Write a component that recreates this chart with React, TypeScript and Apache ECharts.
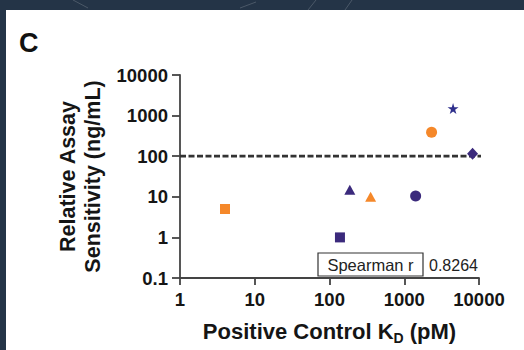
import React, { useEffect, useRef } from "react";
import * as echarts from "echarts";

const kdValues = [4, 138, 187, 355, 1420, 2320, 4500, 8200];
const sensitivityValues = [5, 1, 15, 10, 10.5, 390, 1500, 115];
const markerShapes = ["rect", "rect", "triangle", "triangle", "circle", "circle", "star", "diamond"];
const markerGroups = ["orange", "purple", "purple", "orange", "purple", "orange", "blue", "purple"];
const thresholdValue = 100;
const thresholdRange = [1, 15500];
const yTicks = [0.1, 1, 10, 100, 1000, 10000];
const xTicks = [1, 10, 100, 1000, 10000];
const spearmanLabel = "Spearman r";
const spearmanValue = "0.8264";

const COLORS: Record<string, string> = {
  orange: "#F5882A",
  purple: "#3B2A7C",
  blue: "#2E2F8C",
};
const STAR = "path://M50,0 L61,35 L98,35 L68,57 L79,91 L50,70 L21,91 L32,57 L2,35 L39,35 Z";
const FONT = "'Liberation Sans', Arial, Helvetica, sans-serif";

function fmt(v: number) {
  return String(Number(v.toPrecision(3)));
}

export default function App() {
  const ref = useRef<HTMLDivElement>(null);
  useEffect(() => {
    if (!ref.current) return;
    const chart = echarts.init(ref.current, null, { renderer: "svg" });
    const points = kdValues.map((x, i) => {
      const shape = markerShapes[i];
      const size =
        shape === "rect" ? 10 : shape === "triangle" ? [11, 10] : shape === "star" ? 11 : shape === "diamond" ? [11, 12] : 11;
      return {
        value: [x, sensitivityValues[i]],
        symbol: shape === "star" ? STAR : shape,
        symbolSize: size,
        itemStyle: { color: COLORS[markerGroups[i]], opacity: 1 },
      };
    });
    chart.setOption({
      animation: false,
      backgroundColor: "#243447",
      grid: { left: 180, right: 45, top: 75, bottom: 70 },
      xAxis: {
        type: "log",
        logBase: 10,
        min: xTicks[0],
        max: xTicks[xTicks.length - 1],
        name: "{a|Positive Control K}{s|D}{a| (pM)}",
        nameLocation: "middle",
        nameGap: 39,
        nameTextStyle: {
          rich: {
            a: { fontFamily: FONT, fontWeight: "bold", fontSize: 22, color: "#151515", lineHeight: 28 },
            s: { fontFamily: FONT, fontWeight: "bold", fontSize: 14, color: "#151515", lineHeight: 28, verticalAlign: "bottom" },
          },
        },
        axisLine: { lineStyle: { color: "#444444", width: 1.8 } },
        axisTick: { show: true, inside: false, length: 7, lineStyle: { color: "#444444", width: 1.8 } },
        axisLabel: { fontFamily: FONT, fontWeight: "bold", fontSize: 18.5, color: "#151515", margin: 12, formatter: fmt },
        splitLine: { show: false },
        minorTick: { show: false },
      },
      yAxis: {
        type: "log",
        logBase: 10,
        min: yTicks[0],
        max: yTicks[yTicks.length - 1],
        name: "Relative Assay\nSensitivity (ng/mL)",
        nameLocation: "middle",
        nameRotate: 90,
        nameGap: 73,
        nameTextStyle: { fontFamily: FONT, fontWeight: "bold", fontSize: 21.5, color: "#151515", lineHeight: 25 },
        axisLine: { show: true, lineStyle: { color: "#444444", width: 1.8 } },
        axisTick: { show: true, inside: false, length: 8, lineStyle: { color: "#444444", width: 1.8 } },
        axisLabel: { fontFamily: FONT, fontWeight: "bold", fontSize: 18.5, color: "#151515", margin: 12, formatter: fmt },
        splitLine: { show: false },
      },
      series: [
        {
          type: "line",
          data: [
            [thresholdRange[0], thresholdValue],
            [thresholdRange[1], thresholdValue],
          ],
          clip: false,
          showSymbol: false,
          symbol: "none",
          lineStyle: { color: "#333333", width: 2.8, type: [6, 2.5] },
          z: 3,
          silent: true,
        },
        {
          type: "scatter",
          data: points,
          z: 4,
          clip: false,
        },
      ],
      graphic: [
        { type: "rect", z: -100, shape: { x: 6, y: 10, width: 518, height: 340 }, style: { fill: "#ffffff" } },
        { type: "line", z: -100, shape: { x1: 73, y1: 0, x2: 88, y2: 8 }, style: { stroke: "rgba(255,255,255,0.18)", lineWidth: 1 } },
        { type: "line", z: -100, shape: { x1: 240, y1: 8, x2: 256, y2: 2 }, style: { stroke: "rgba(255,255,255,0.18)", lineWidth: 1 } },
        { type: "line", z: -100, shape: { x1: 308, y1: 10, x2: 316, y2: 0 }, style: { stroke: "rgba(255,255,255,0.18)", lineWidth: 1 } },
        { type: "line", z: -100, shape: { x1: 345, y1: 10, x2: 352, y2: 0 }, style: { stroke: "rgba(255,255,255,0.18)", lineWidth: 1 } },
        {
          type: "text",
          left: 19,
          top: 29,
          style: { text: "C", fontFamily: FONT, fontWeight: "bold", fontSize: 27, fill: "#111111" },
        },
        {
          type: "rect",
          shape: { x: 318, y: 253, width: 105, height: 23 },
          style: { fill: "#ffffff", stroke: "#333333", lineWidth: 1.2 },
          z: 5,
        },
        {
          type: "text",
          x: 370.5,
          y: 264.5,
          z: 6,
          style: { text: spearmanLabel, fontFamily: FONT, fontSize: 16.5, fill: "#222222", align: "center", verticalAlign: "middle" },
        },
        {
          type: "text",
          x: 429,
          y: 265,
          z: 6,
          style: { text: spearmanValue, fontFamily: FONT, fontSize: 16, fill: "#222222", align: "left", verticalAlign: "middle" },
        },
      ],
    });
    return () => chart.dispose();
  }, []);
  return (
    <div style={{ position: "fixed", left: 0, top: 0, width: 524, height: 350, background: "#243447" }}>
      <div ref={ref} style={{ width: 524, height: 350 }} />
    </div>
  );
}
